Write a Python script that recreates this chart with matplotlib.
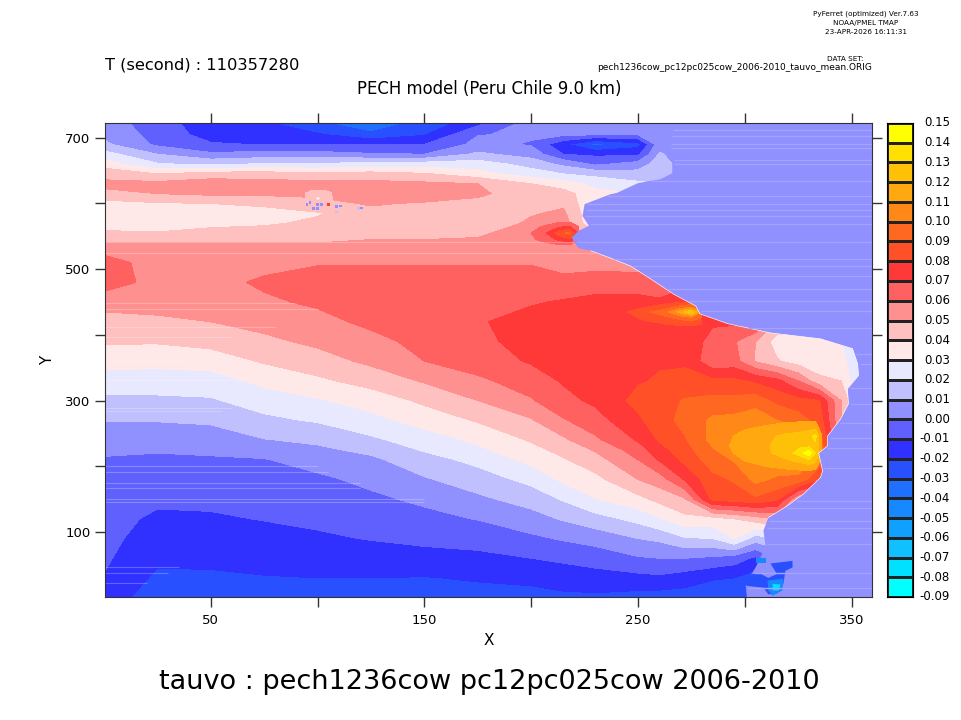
import numpy as np
import matplotlib
matplotlib.use("Agg")
import matplotlib.pyplot as plt
from matplotlib.colors import ListedColormap, BoundaryNorm

# contour levels and colours, bottom to top of the colour key
levels = np.round(np.arange(-0.09, 0.1501, 0.01), 2) + 0.0
band_colors = ['#00ffff', '#00e0ff', '#10c0ff', '#10a0ff', '#1888ff', '#2070ff', '#2850ff', '#3030ff',
               '#6060ff', '#9090ff', '#c0c0ff', '#e8e8ff', '#ffe8e8', '#ffc0c0', '#ff9090', '#ff6060',
               '#ff3838', '#ff5028', '#ff6820', '#ff8818', '#ffa810', '#ffc008', '#ffe000', '#ffff00']

y_rows = [725, 705, 690, 675, 660, 645, 630, 615, 600, 585, 570, 540, 510, 480, 450, 420,
          390, 360, 330, 300, 270, 240, 225, 210, 180, 150, 120, 90, 60, 30, 0]
x_cols = [0, 25, 50, 75, 100, 125, 150, 175, 200, 215, 230, 250, 260, 272, 285, 295, 305, 315, 325, 335, 345, 360]

# one line per x column
tauvo = np.array([
    [.005, .008, .012, .024, .035, .047, .052, .048, .036, .034, .034, .05, .066, .066, .053, .047, .041, .034, .025, .018, .0105, .004, .001, -.0005, -.003, -.005, -.006, -.007, -.0085, -.0105, -.015],
    [-.006, -.004, -.002, .01, .021, .04, .053, .05, .039, .033, .032, .05, .054, .056, .054, .048, .041, .033, .025, .018, .0105, .004, .001, -.002, -.0045, -.008, -.012, -.015, -.018, -.022, -.025],
    [-.016, -.014, -.009, .002, .018, .045, .055, .052, .04, .036, .037, .05, .053, .056, .056, .05, .043, .035, .025, .019, .0115, .005, .0015, -.001, -.004, -.0075, -.0115, -.015, -.018, -.0215, -.024],
    [-.02, -.017, -.0105, .004, .021, .045, .054, .052, .042, .036, .0385, .05, .056, .062, .058, .053, .048, .041, .033, .024, .018, .0095, .004, -.0005, -.003, -.006, -.0095, -.014, -.017, -.0205, -.024],
    [-.03, -.019, -.0105, .004, .021, .043, .053, .052, .047, .039, .042, .05, .059, .065, .062, .056, .052, .046, .038, .029, .021, .012, .008, .004, -.002, -.004, -.008, -.0115, -.016, -.02, -.023],
    [-.038, -.028, -.0105, .001, .024, .044, .053, .056, .051, .047, .045, .051, .059, .065, .067, .063, .056, .052, .044, .034, .027, .018, .0125, .008, .0025, -.002, -.006, -.0095, -.015, -.02, -.023],
    [-.028, -.021, -.01, .0, .025, .041, .052, .056, .049, .047, .045, .051, .059, .065, .068, .067, .064, .06, .051, .042, .034, .025, .021, .016, .009, .002, -.003, -.008, -.013, -.0205, -.023],
    [-.015, -.0005, .003, .012, .025, .034, .05, .052, .047, .045, .042, .053, .059, .066, .068, .069, .068, .065, .058, .05, .041, .032, .028, .023, .015, .008, .0005, -.007, -.012, -.019, -.024],
    [.003, .0015, -.001, .006, .016, .025, .04, .044, .046, .049, .052, .056, .059, .066, .069, .074, .073, .071, .065, .059, .049, .041, .037, .033, .023, .014, .006, -.002, -.01, -.018, -.023],
    [.004, .002, -.018, -.01, .0075, .02, .035, .044, .048, .052, .055, .055, .056, .063, .071, .073, .075, .076, .071, .067, .059, .048, .043, .039, .032, .021, .011, .001, -.008, -.016, -.022],
    [.005, .001, -.033, -.012, -.002, .017, .027, .033, .03, .03, .03, .05, .056, .065, .073, .076, .078, .078, .076, .072, .066, .058, .051, .046, .037, .0295, .016, .004, -.006, -.014, -.022],
    [.005, .001, -.024, -.012, .004, .014, .022, .03, .03, .03, .03, .05, .055, .065, .073, .076, .078, .079, .079, .083, .078, .071, .065, .06, .05, .037, .023, .01, -.001, -.013, -.024],
    [.005, .005, .006, .011, .015, .017, .02, .028, .03, .032, .035, .05, .055, .062, .072, .077, .078, .079, .081, .085, .086, .081, .076, .071, .055, .043, .029, .012, .0, -.012, -.025],
    [.005, .005, .005, .005, .005, .005, .01, .02, .03, .035, .04, .05, .06, .068, .074, .078, .079, .079, .082, .091, .093, .089, .086, .083, .071, .049, .037, .019, .0, -.015, -.025],
    [.005, .005, .005, .005, .005, .005, .005, .02, .03, .035, .04, .05, .06, .068, .072, .072, .065, .062, .082, .093, .102, .103, .099, .095, .087, .083, .036, .02, -.002, -.019, -.028],
    [.005, .005, .005, .005, .005, .005, .005, .02, .03, .035, .04, .05, .06, .068, .07, .072, .061, .064, .082, .093, .103, .109, .106, .101, .091, .085, .04, .03, -.005, -.02, -.028],
    [.005, .005, .005, .005, .005, .005, .005, .02, .03, .035, .04, .05, .06, .068, .07, .072, .05, .049, .078, .095, .107, .109, .109, .109, .103, .088, .045, .015, -.012, -.025, -.03],
    [.005, .005, .005, .005, .005, .005, .005, .02, .03, .035, .04, .05, .06, .068, .07, .05, .035, .041, .073, .087, .1, .109, .109, .109, .098, .082, .05, .02, .0, .0, .0],
    [.005, .005, .005, .005, .005, .005, .005, .02, .03, .035, .04, .05, .06, .068, .07, .05, .031, .035, .06, .083, .095, .109, .109, .109, .097, .05, .03, .01, .0, .0, .0],
    [.005, .005, .005, .005, .005, .005, .005, .02, .03, .035, .04, .05, .06, .068, .07, .045, .031, .035, .042, .08, .085, .095, .1, .095, .08, .04, .02, .005, .0, .0, .0],
    [.005, .005, .005, .005, .005, .005, .005, .02, .03, .035, .04, .05, .06, .06, .05, .03, .03, .035, .04, .05, .05, .05, .05, .05, .05, .03, .01, .005, .005, .005, .005],
    [.005] * 31,
]).T

# small features the coarse grid cannot hold
north_x = [192, 200, 207, 213, 218, 222]
north_y = [575, 565, 555, 545, 535]
north_z = [[.055, .055, .055, .055, .055, .055],
           [.055, .058, .061, .068, .07, .06],
           [.055, .06, .07, .085, .093, .07],
           [.055, .058, .064, .072, .078, .06],
           [.055, .055, .055, .056, .056, .055]]

mid_x = [244, 253.5, 263, 270, 275, 279.7]
mid_y = [452, 442, 435, 426, 414]
mid_z = [[.075, .075, .075, .075, .075, .075],
         [.075, .08, .085, .095, .1, .09],
         [.079, .088, .097, .115, .13, .1],
         [.075, .083, .088, .093, .097, .09],
         [.075, .075, .078, .08, .08, .078]]

core_x = [291, 300, 310, 319, 326, 330, 333, 336]
core_y = [277, 262, 246, 231, 220, 208, 193]
core_z = [[.105, .105, .105, .105, .105, .105, .105, .105],
          [.105, .108, .11, .112, .113, .114, .113, .105],
          [.108, .113, .118, .122, .124, .127, .133, .11],
          [.109, .114, .119, .124, .128, .127, .128, .11],
          [.108, .113, .118, .125, .135, .148, .13, .11],
          [.106, .11, .114, .118, .122, .126, .122, .105],
          [.104, .105, .107, .108, .109, .109, .108, .1]]

isle_x = [93, 97.5, 100, 103.6, 108]
isle_y = [622, 616, 608, 601, 595]
isle_z = [[.052, .052, .052, .052, .052],
          [.052, .046, .044, .046, .052],
          [.052, .044, .036, .044, .052],
          [.052, .046, .042, .046, .052],
          [.052, .052, .052, .052, .052]]

speck_x = [96.5, 99.8, 102, 98, 100, 95, 109, 110.6, 109, 119, 120.4, 105]
speck_y = [602, 599, 598, 592, 592, 599, 595, 596, 587, 592, 593, 599]
speck_v = [.005, .005, .005, .005, .005, .005, .005, .005, .015, .015, .005, .075]

coast_x = [266.1, 264.2, 266, 266, 260.5, 250, 240, 237, 225, 224, 227, 222, 219, 222, 228, 237, 246.4, 256,
           266.6, 277, 279, 292, 312, 335.4, 350.4, 352.8, 353.2, 348, 348.5, 344.8, 338.7, 338.7, 334.5,
           336.4, 335.4, 327.5, 320, 311, 308.7, 309.7, 307.3, 305, 300.3, 301]
coast_y = [725, 683, 665, 646, 637, 631, 616, 614, 599, 581, 566, 558, 548, 532, 528, 517, 505, 485,
           462, 444, 432, 417, 403, 394, 379, 356, 338, 318, 295, 272, 246, 231, 220,
           193, 183, 158, 140, 122, 102, 79, 61, 46, 21, 0]

# wind patches sitting on the land side of the southern coast
patch_values = [-.025, -.045, -.075, -.045]
patch_x = [[312, 322.3, 322.3, 319, 318, 315, 311, 308.7, 301, 297, 300, 306.4, 311, 315],
           [310.6, 318, 317.6, 313, 311],
           [313, 316.7, 315.8, 313],
           [305, 309.7, 309.7, 305]]
patch_y = [[52, 56, 46, 41, 21, 6, 5, 15, 18, 23, 33, 38, 30, 36],
           [26, 29, 11, 3, 11],
           [21, 20, 11, 11],
           [61, 61, 52, 52]]

# pale one-row streaks in the field
land_streaks = [712, 703, 690, 684, 666, 660, 634, 611, 599, 590, 581, 569, 541, 516, 505, 490, 470, 452, 436,
                411, 371, 356, 319, 295, 266, 243, 228, 198, 147, 137, 117, 106, 82, 38, 14]
sea_streak_y = [541, 524, 449, 440, 412, 397, 360, 332, 288, 284, 200, 192, 175, 167, 150, 145, 47, 37, 22]
sea_streak_x = [220, 230, 90, 100, 80, 60, 40, 65, 60, 55, 100, 105, 120, 120, 150, 150, 35, 30, 20]

x_ticks = [50, 100, 150, 200, 250, 300, 350]
x_labels = ['50', '', '150', '', '250', '', '350']
y_ticks = [100, 200, 300, 400, 500, 600, 700]
y_labels = ['100', '', '300', '', '500', '', '700']

cmap = ListedColormap(band_colors)
norm = BoundaryNorm(levels, cmap.N)

fig = plt.figure(figsize=(9.61, 7.2), dpi=100)
ax = fig.add_axes([105 / 961, 1 - 597 / 720, 767 / 961, 474 / 720])

ax.contourf(x_cols, y_rows, tauvo, levels=levels, cmap=cmap, norm=norm, zorder=1, extend='both')
ax.contourf(north_x, north_y, north_z, levels=levels[levels >= .06], cmap=cmap, norm=norm, zorder=2)
ax.contourf(mid_x, mid_y, mid_z, levels=levels[levels >= .08], cmap=cmap, norm=norm, zorder=2)
ax.contourf(core_x, core_y, core_z, levels=levels[levels >= .11], cmap=cmap, norm=norm, zorder=2)
ax.contourf(isle_x, isle_y, isle_z, levels=levels[levels <= .05], cmap=cmap, norm=norm, zorder=2)
ax.scatter(speck_x, speck_y, c=speck_v, cmap=cmap, norm=norm, marker='s', s=4, linewidths=0, zorder=3)

ax.fill(coast_x + [362, 362], coast_y + [0, 725], color=band_colors[9], lw=0, zorder=3)
ax.plot(coast_x[14:38], coast_y[14:38], color='white', lw=0.45, zorder=4)
for v, px, py in zip(patch_values, patch_x, patch_y):
    ax.fill(px, py, color=cmap(norm(v)), lw=0, zorder=4)

coast_at = np.interp(land_streaks, coast_y[::-1], coast_x[::-1])
ax.hlines(land_streaks, coast_at + 1, 360, color='#a4a4ff', lw=1, zorder=4)
ax.hlines(sea_streak_y, 0, sea_streak_x, color='white', alpha=0.25, lw=0.8, zorder=4)

ax.set_xlim(0.5, 359.5)
ax.set_ylim(1, 722.5)
ax.set_xticks(x_ticks)
ax.set_xticklabels(x_labels, fontsize=9.5)
ax.set_yticks(y_ticks)
ax.set_yticklabels(y_labels, fontsize=9.5)
ax.tick_params(length=7.5, width=1, color='#333333', top=True, right=True)
ax.tick_params(axis='x', pad=5)
ax.tick_params(axis='y', pad=3)
ax.set_xlabel('X', fontsize=11, labelpad=4)
ax.set_ylabel('Y', fontsize=11, labelpad=7)
for s in ax.spines.values():
    s.set_color('#333333')
    s.set_zorder(6)

# colour key
cax = fig.add_axes([887 / 961, 1 - 597 / 720, 26 / 961, 474 / 720])
key_x = [0, 1]
key_grid = np.array([levels[:-1]]).T
cax.pcolormesh(key_x, levels, key_grid + 0.001, cmap=cmap, norm=norm, edgecolors='#222222', linewidth=0.9)
cax.set_xticks([])
cax.set_yticks([])
cax.set_ylim(levels[0], levels[-1])
for v in levels:
    cax.text(1.0 + 37 / 26 * 1.0, v, f'{v:.2f}', ha='right', va='center', fontsize=8.5)

fig.text(105 / 961, 1 - 65 / 720, 'T (second) : 110357280', fontsize=11.7, va='center')
fig.text(489 / 961, 1 - 89 / 720, 'PECH model (Peru Chile 9.0 km)', fontsize=11.9, ha='center', va='center')
fig.text(489 / 961, 1 - 682 / 720, 'tauvo : pech1236cow pc12pc025cow 2006-2010', fontsize=19.5, ha='center', va='center')

for txt, py in [('PyFerret (optimized) Ver.7.63', 14), ('NOAA/PMEL TMAP', 23), ('23-APR-2026 16:11:31', 32)]:
    fig.text(866 / 961, 1 - py / 720, txt, fontsize=5.2, ha='center', va='center')
fig.text(845 / 961, 1 - 59 / 720, 'DATA SET:', fontsize=5.2, ha='center', va='center')
fig.text(872 / 961, 1 - 68 / 720, 'pech1236cow_pc12pc025cow_2006-2010_tauvo_mean.ORIG', fontsize=6.5, ha='right', va='center')

fig.savefig('out.png', dpi=100)
